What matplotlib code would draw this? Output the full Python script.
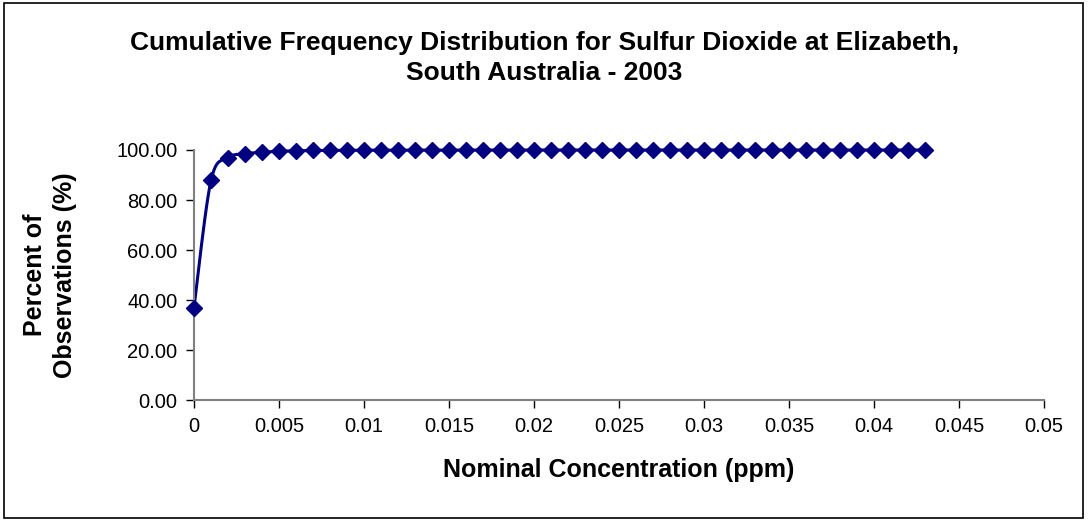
import matplotlib
matplotlib.use("Agg")
import matplotlib.pyplot as plt
from matplotlib.patches import Rectangle
import numpy as np

plt.rcParams['font.family'] = ['Liberation Sans', 'DejaVu Sans']

# concentration bins (ppm) and cumulative percent of observations
conc = [i / 1000 for i in range(44)]
cum_pct = [37.0, 87.8, 96.9, 98.5, 99.1, 99.5, 99.7, 99.8, 99.85, 99.9,
           99.92, 99.94, 99.95, 99.96, 99.97, 99.98, 99.98, 99.99, 99.99, 99.99,
           100.0, 100.0, 100.0, 100.0, 100.0, 100.0, 100.0, 100.0, 100.0, 100.0,
           100.0, 100.0, 100.0, 100.0, 100.0, 100.0, 100.0, 100.0, 100.0, 100.0,
           100.0, 100.0, 100.0, 100.0]

x_ticks = [0, 0.005, 0.01, 0.015, 0.02, 0.025, 0.03, 0.035, 0.04, 0.045, 0.05]
x_labels = ['0', '0.005', '0.01', '0.015', '0.02', '0.025', '0.03', '0.035',
            '0.04', '0.045', '0.05']
y_ticks = [0, 20, 40, 60, 80, 100]


def smooth(xs, ys, n=12):
    # Catmull-Rom style smoothing like a spreadsheet "smoothed line"
    xs = np.asarray(xs, float)
    ys = np.asarray(ys, float)
    px = np.concatenate([[xs[0]], xs, [xs[-1]]])
    py = np.concatenate([[ys[0]], ys, [ys[-1]]])
    t = np.linspace(0, 1, n, endpoint=False)
    outx, outy = [], []
    for i in range(1, len(px) - 2):
        for p, o in ((px, outx), (py, outy)):
            p0, p1, p2, p3 = p[i - 1], p[i], p[i + 1], p[i + 2]
            o.extend(0.5 * (2 * p1 + (-p0 + p2) * t
                            + (2 * p0 - 5 * p1 + 4 * p2 - p3) * t ** 2
                            + (-p0 + 3 * p1 - 3 * p2 + p3) * t ** 3))
    outx.append(xs[-1])
    outy.append(ys[-1])
    return outx, outy


fig = plt.figure(figsize=(10.88, 5.21), dpi=100)
ax = fig.add_axes([0.1783, 0.2322, 0.7813, 0.4799])

navy = '#000080'
sx, sy = smooth(conc, cum_pct)
ax.plot(sx, sy, color=navy, lw=2.2, solid_capstyle='round', clip_on=False)
ax.plot(conc, cum_pct, linestyle='none', marker='D', ms=8.5, color=navy,
        clip_on=False, zorder=3)

ax.set_xlim(0, 0.05)
ax.set_ylim(0, 100)
ax.set_xticks(x_ticks)
ax.set_xticklabels(x_labels)
ax.set_yticks(y_ticks)
ax.set_yticklabels(['%.2f' % v for v in y_ticks])

for side in ('top', 'right'):
    ax.spines[side].set_visible(False)
for side in ('left', 'bottom'):
    ax.spines[side].set_color('#808080')
    ax.spines[side].set_linewidth(1.5)
ax.tick_params(axis='both', direction='out', length=6, width=1,
               color='#000000', labelsize=14.5, pad=6)
ax.patch.set_alpha(0)

ax.set_xlabel('Nominal Concentration (ppm)', fontsize=18, fontweight='bold',
              labelpad=16)
ax.set_ylabel('Percent of\nObservations (%)', fontsize=18, fontweight='bold',
              labelpad=28, linespacing=1.35)

fig.text(0.5, 0.94, 'Cumulative Frequency Distribution for Sulfur Dioxide at Elizabeth,\n'
         'South Australia - 2003', ha='center', va='top', fontsize=19,
         fontweight='bold', linespacing=1.3)

fig.patches.append(Rectangle((0.004, 0.006), 0.991, 0.988, transform=fig.transFigure,
                             fill=False, edgecolor='black', lw=1.2))

fig.savefig('out.png', dpi=100)
